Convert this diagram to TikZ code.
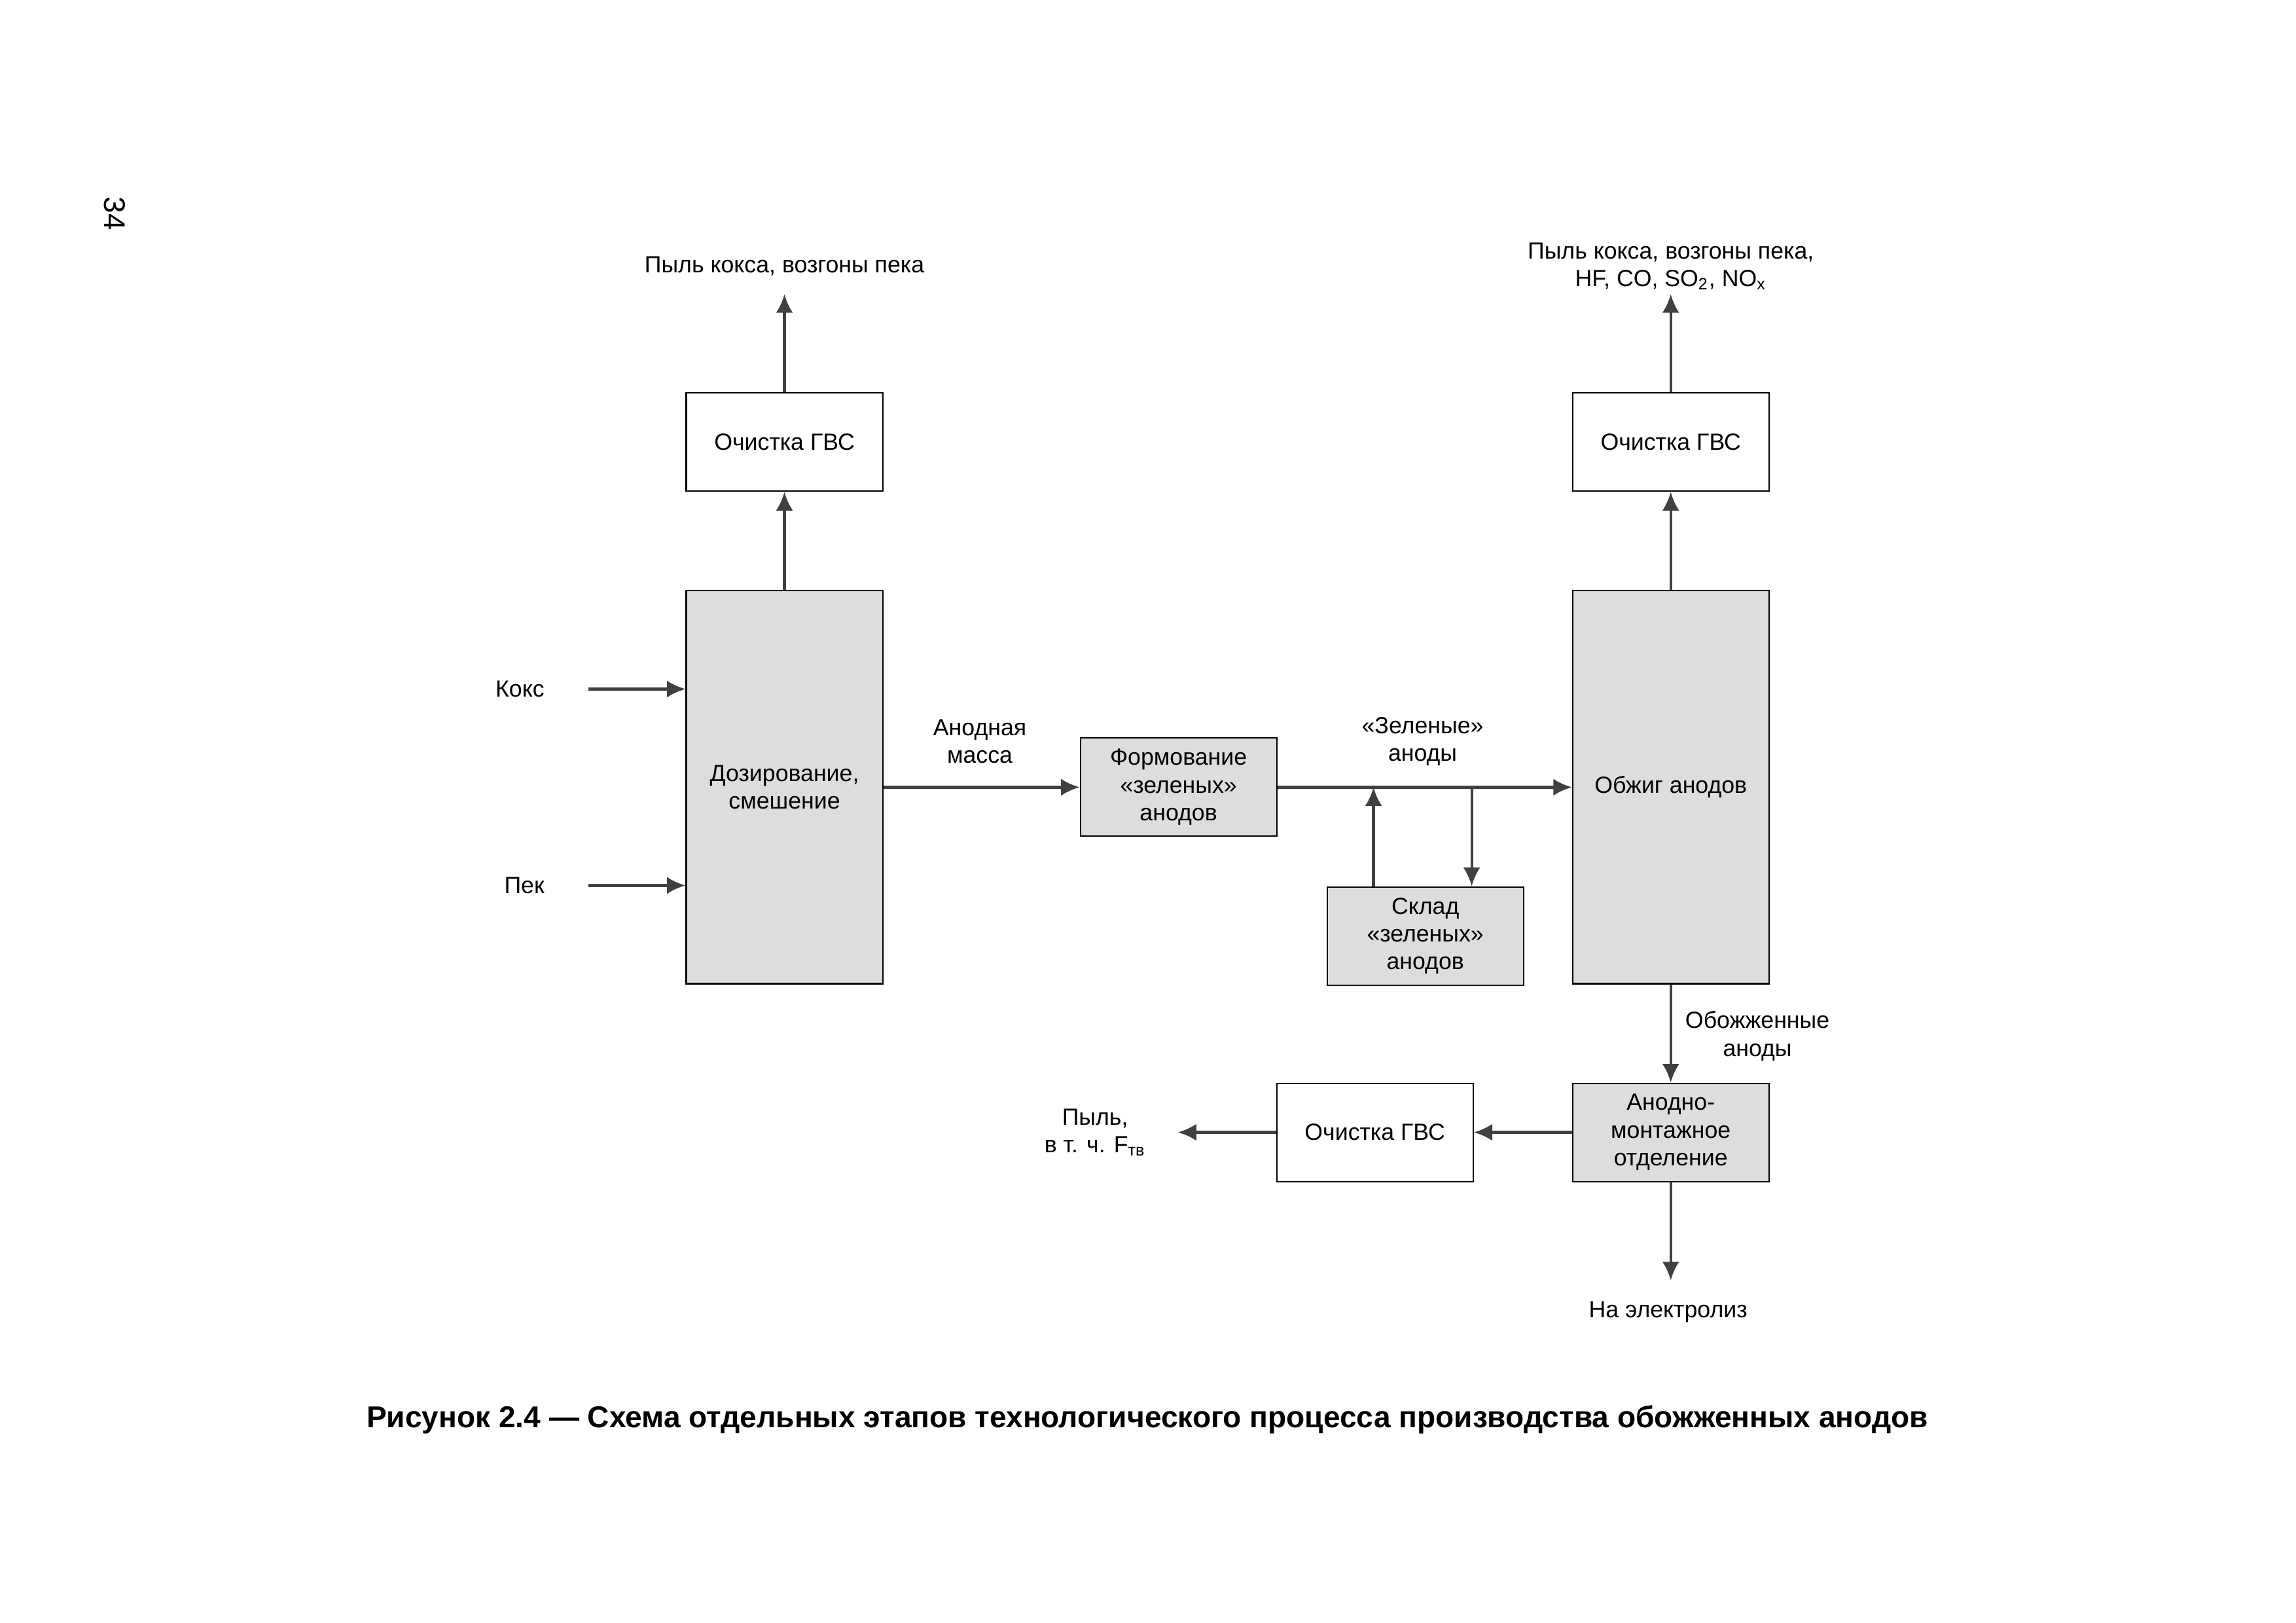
\documentclass[tikz,border=0pt]{standalone}
\usepackage{fontspec}
\setmainfont{Liberation Sans}
\usetikzlibrary{positioning, arrows.meta}

\definecolor{boxfill}{RGB}{221,221,221}
\definecolor{flowgray}{RGB}{64,64,64}

\begin{document}
\begin{tikzpicture}[
    x=1in, y=1in,
    node distance=0.5in,
    font=\fontsize{8.6}{10.2}\selectfont,
    block/.style={rectangle, draw, line width=0.5pt, fill=boxfill, minimum width=1in, minimum height=0.5in, align=center, inner sep=2pt},
    cleanbox/.style={block, fill=white},
    tallblock/.style={block, minimum height=2in},
    line/.style={draw=flowgray, line width=1pt, -{Latex[length=2.4mm, width=2.2mm]}},
    lbl/.style={align=center, inner sep=0pt}
]
\useasboundingbox (0,0) rectangle (11.693,-8.263);

% Nodes
\node [tallblock] (dose) at (3.995,-4.008) {Дозирование,\\смешение};
\node [cleanbox, above=of dose] (gvsmix) {Очистка ГВС};
\node [block, right=1in of dose] (form) {Формование\\«зеленых»\\анодов};
\node [tallblock, right=1.5in of form] (burn) {Обжиг анодов};
\node [cleanbox, above=of burn] (gvsburn) {Очистка ГВС};
\node [block, below right=0.25in and 0.25in of form] (store) {Склад\\«зеленых»\\анодов};
\node [block, below=of burn] (mount) {Анодно-\\монтажное\\отделение};
\node [cleanbox, left=of mount] (gvsmount) {Очистка ГВС};

% Free ends
\coordinate (koksin) at (2.995,-3.508);
\coordinate (pekin) at (2.995,-4.508);
\coordinate [above=of gvsmix] (mixout);
\coordinate [above=of gvsburn] (burnout);
\coordinate [left=of gvsmount] (dustout);
\coordinate [below=of mount] (elecout);
\coordinate (tostore) at (7.495,-4.008);
\coordinate (fromstore) at (6.995,-4.008);

% Lines
\path [line] (koksin) -- (koksin -| dose.west);
\path [line] (pekin) -- (pekin -| dose.west);
\path [line] (dose) -- (gvsmix);
\path [line] (gvsmix) -- (mixout);
\path [line] (dose) -- (form);
\path [line] (form) -- (burn);
\path [line] (fromstore |- store.north) -- (fromstore);
\path [line] (tostore) -- (tostore |- store.north);
\path [line] (burn) -- (gvsburn);
\path [line] (gvsburn) -- (burnout);
\path [line] (burn) -- (mount);
\path [line] (mount) -- (gvsmount);
\path [line] (gvsmount) -- (dustout);
\path [line] (mount) -- (elecout);

% Labels
\node [lbl, left=0.22in of koksin] (koks) {Кокс};
\node [lbl, left=0.22in of pekin] (pek) {Пек};
\node [lbl, above=0.09in of mixout] (dustmix) {Пыль кокса, возгоны пека};
\node [lbl, above=0.02in of burnout] (dustburn) {Пыль кокса, возгоны пека,\\HF, CO, SO\textsubscript{2}, NO\textsubscript{x}};
\node [lbl] (mass) at (4.99,-3.775) {Анодная\\масса};
\node [lbl] (green) at (7.245,-3.775) {«Зеленые»\\аноды};
\node [lbl] (burnt) at (8.95,-5.275) {Обожженные\\аноды};
\node [lbl] (dustmount) at (5.577,-5.765) {Пыль,\\в т. ч. F\textsubscript{тв}};
\node [lbl] (elec) at (8.495,-6.68) {На электролиз};

% Caption and page number
\node [lbl, font=\fontsize{11.1}{13}\selectfont\bfseries] (caption) at (5.843,-7.228) {Рисунок 2.4 — Схема отдельных этапов технологического процесса производства обожженных анодов};
\node [lbl, font=\fontsize{11}{13}\selectfont, rotate=-90] (page) at (0.583,-1.087) {34};

\end{tikzpicture}
\end{document}
